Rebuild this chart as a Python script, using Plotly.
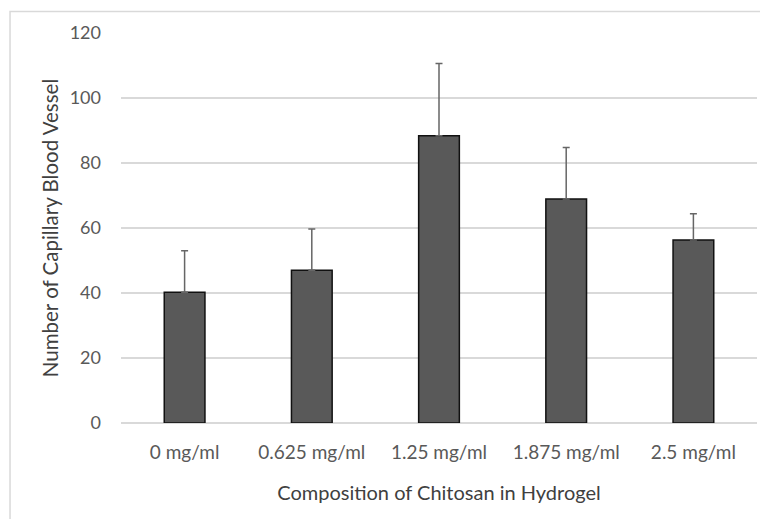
import plotly.graph_objects as go

categories = ["0 mg/ml", "0.625 mg/ml", "1.25 mg/ml", "1.875 mg/ml", "2.5 mg/ml"]
values = [40.2, 47.0, 88.4, 68.9, 56.3]
errors = [12.8, 12.7, 22.2, 15.9, 8.1]
y_ticks = [0, 20, 40, 60, 80, 100, 120]

FONT = "Lato"

fig = go.Figure()
fig.add_trace(go.Bar(
    x=categories, y=values,
    marker=dict(color="#595959", line=dict(color="#111111", width=1.5)),
    error_y=dict(type="data", array=errors, visible=True, symmetric=False,
                 arrayminus=[0]*len(errors),
                 color="#666666", thickness=1.5, width=3.5),
    width=0.32,
))

fig.update_layout(
    width=768, height=519,
    paper_bgcolor="white", plot_bgcolor="white",
    margin=dict(l=113, r=19, t=25, b=104, pad=0, autoexpand=False),
    showlegend=False,
    font=dict(family=FONT, color="#595959"),
    xaxis=dict(
        tickfont=dict(size=19, color="#595959", family=FONT),
        title=dict(text="Composition of Chitosan in Hydrogel",
                   font=dict(size=20, color="#404040", family=FONT), standoff=23),
        showline=False, ticks="", showgrid=False, automargin=False,
        ticklabelstandoff=16,
    ),
    yaxis=dict(
        range=[0, 120], tickvals=y_ticks,
        tickfont=dict(size=18, color="#595959", family=FONT),
        title=dict(text="Number of Capillary Blood Vessel",
                   font=dict(size=20.5, color="#404040", family=FONT), standoff=5),
        showgrid=True, gridcolor="#d9d9d9", gridwidth=1.5,
        zeroline=True, zerolinecolor="#d9d9d9", zerolinewidth=1.5,
        showline=False, ticks="", ticklabelstandoff=19, automargin=False,
    ),
    shapes=[dict(type="rect", xref="paper", yref="paper",
                 x0=-0.1745, x1=1.05, y0=-0.4, y1=1.055,
                 line=dict(color="#d9d9d9", width=1.5), layer="below")],
)

fig.write_html("out.html")
